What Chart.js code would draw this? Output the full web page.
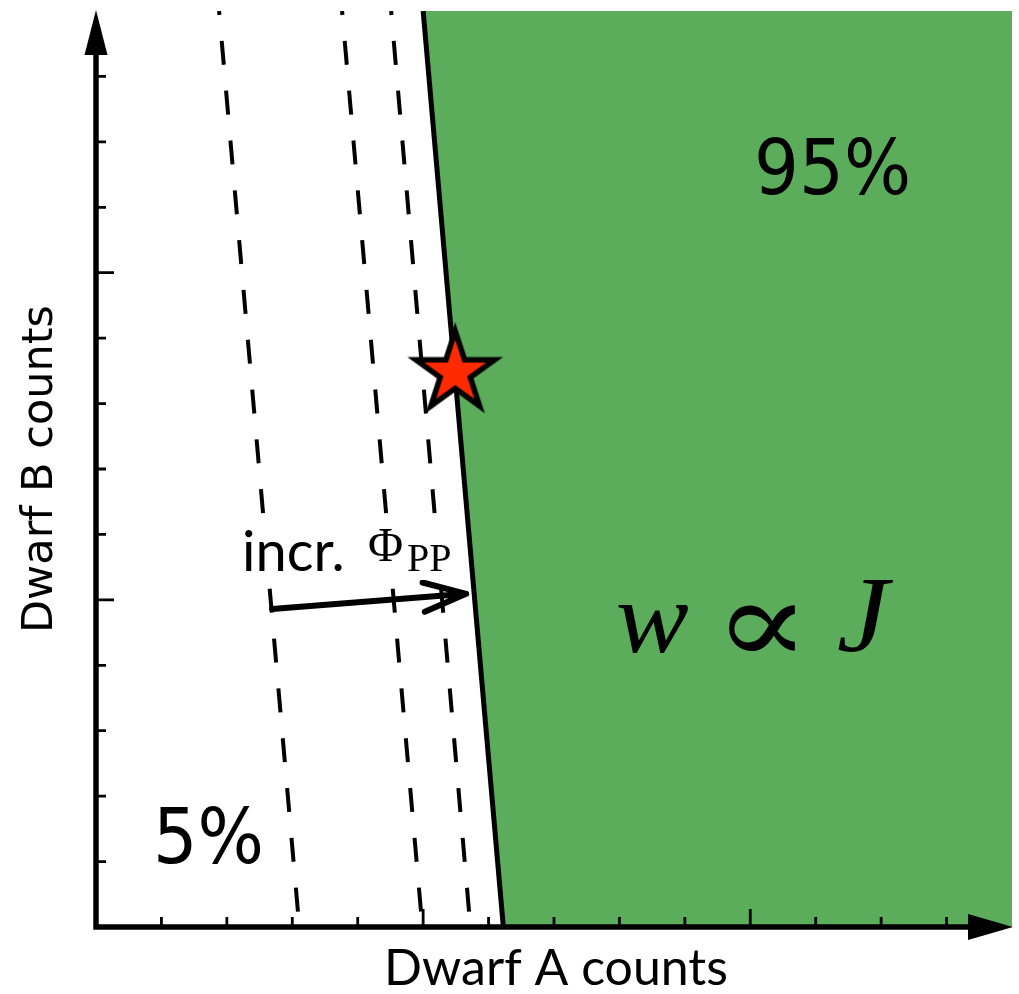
<!DOCTYPE html>
<html>
<head>
<meta charset="utf-8">
<script src="https://cdn.jsdelivr.net/npm/chart.js@4.4.1/dist/chart.umd.min.js"></script>
<style>
  html, body { margin: 0; padding: 0; background: #ffffff; }
  canvas { display: block; }
</style>
</head>
<body>
<canvas id="chart" width="1019" height="994"></canvas>
<script>
// Both axes run over the same count range (arbitrary units)
const axisMax = 14;
const tickValues = [1, 2, 3, 4, 5, 6, 7, 8, 9, 10, 11, 12, 13];
const majorTickValues = [5, 10];

// Selection boundary: x where it meets the top edge and the x axis
const boundaryX = [5.0, 6.226];
const boundaryY = [14, 0];

// Dashed boundaries for increasing Phi_PP (top x, bottom x)
const dashedTopX = [1.881, 3.761, 4.511];
const dashedBottomX = [3.107, 4.988, 5.722];

// Observed dwarf pair
const starX = [5.49];
const starY = [8.52];

// Arrow showing the shift with increasing Phi_PP
const arrowStart = [2.691, 4.862];
const arrowEnd = [5.657, 5.092];

const GREEN = 'rgb(91,173,92)';

// Five-pointed marker used for the observed point
function makeStar() {
  const size = 130, c = size / 2, R = 41.5, r = R * 0.382;
  const cv = document.createElement('canvas');
  cv.width = size; cv.height = size;
  const g = cv.getContext('2d');
  g.beginPath();
  for (let i = 0; i < 10; i++) {
    const rad = i % 2 === 0 ? R : r;
    const a = -Math.PI / 2 + i * Math.PI / 5;
    const px = c + rad * Math.cos(a), py = c + 3 + rad * Math.sin(a);
    if (i === 0) g.moveTo(px, py); else g.lineTo(px, py);
  }
  g.closePath();
  g.fillStyle = '#ff2a00';
  g.fill();
  g.lineWidth = 5.5;
  g.lineJoin = 'miter';
  g.miterLimit = 10;
  g.strokeStyle = '#000';
  g.stroke();
  return cv;
}

const datasets = [];

datasets.push({
  label: 'observed',
  data: starX.map((x, i) => ({ x, y: starY[i] })),
  showLine: false,
  pointStyle: makeStar(),
  pointRadius: 40,
  order: 0,
  clip: false
});

datasets.push({
  label: 'boundary',
  data: boundaryX.map((x, i) => ({ x, y: boundaryY[i] })),
  showLine: true,
  borderColor: '#000',
  borderWidth: 5,
  pointRadius: 0,
  fill: false,
  order: 1
});

dashedTopX.forEach((xt, i) => {
  datasets.push({
    label: 'dashed ' + i,
    data: [{ x: xt, y: axisMax }, { x: dashedBottomX[i], y: 0 }],
    showLine: true,
    borderColor: '#000',
    borderWidth: 4,
    borderDash: [24, 26],
    borderDashOffset: 20,
    pointRadius: 0,
    fill: false,
    order: 2
  });
});

// Region right of the boundary, filled up to the top of the plot
datasets.push({
  label: 'accepted',
  data: [
    { x: boundaryX[0], y: boundaryY[0] },
    { x: boundaryX[1], y: boundaryY[1] },
    { x: axisMax, y: 0 }
  ],
  showLine: true,
  borderWidth: 0,
  borderColor: GREEN,
  backgroundColor: GREEN,
  pointRadius: 0,
  fill: 'end',
  order: 3
});

function arrowHead(ctx, tipX, tipY, dirX, dirY, len, halfW) {
  const n = Math.hypot(dirX, dirY);
  const ux = dirX / n, uy = dirY / n;
  const bx = tipX - ux * len, by = tipY - uy * len;
  ctx.beginPath();
  ctx.moveTo(tipX, tipY);
  ctx.lineTo(bx - uy * halfW, by + ux * halfW);
  ctx.lineTo(bx + uy * halfW, by - ux * halfW);
  ctx.closePath();
  ctx.fill();
}

// Draws text so that its ink fills the given box
function fitText(ctx, text, left, top, width, height) {
  const m = ctx.measureText(text);
  const w = m.actualBoundingBoxLeft + m.actualBoundingBoxRight;
  const h = m.actualBoundingBoxAscent + m.actualBoundingBoxDescent;
  ctx.save();
  ctx.translate(left, top);
  ctx.scale(width / w, height / h);
  ctx.fillText(text, m.actualBoundingBoxLeft, m.actualBoundingBoxAscent);
  ctx.restore();
}

const decorations = {
  id: 'decorations',
  afterDatasetsDraw(chart) {
    const ctx = chart.ctx;
    const xs = chart.scales.x, ys = chart.scales.y;
    const x0 = xs.getPixelForValue(0), y0 = ys.getPixelForValue(0);
    const xEnd = xs.getPixelForValue(axisMax), yEnd = ys.getPixelForValue(axisMax);
    ctx.save();
    ctx.fillStyle = '#000';
    ctx.strokeStyle = '#000';

    // Axis lines
    ctx.lineWidth = 5.5;
    ctx.lineCap = 'butt';
    ctx.beginPath();
    ctx.moveTo(x0, y0 + 2.75);
    ctx.lineTo(x0, yEnd + 40);
    ctx.moveTo(x0 - 2.75, y0);
    ctx.lineTo(xEnd - 40, y0);
    ctx.stroke();
    arrowHead(ctx, x0, yEnd - 1, 0, -1, 45, 11.5);
    arrowHead(ctx, xEnd + 1, y0, 1, 0, 45, 13);

    // Inward ticks
    ctx.lineWidth = 2.8;
    ctx.beginPath();
    tickValues.forEach(v => {
      const len = majorTickValues.includes(v) ? 18 : 10;
      const px = xs.getPixelForValue(v);
      ctx.moveTo(px, y0);
      ctx.lineTo(px, y0 - len);
      const py = ys.getPixelForValue(v);
      ctx.moveTo(x0, py);
      ctx.lineTo(x0 + len, py);
    });
    ctx.stroke();

    // Phi_PP arrow
    const ax1 = xs.getPixelForValue(arrowStart[0]), ay1 = ys.getPixelForValue(arrowStart[1]);
    const ax2 = xs.getPixelForValue(arrowEnd[0]), ay2 = ys.getPixelForValue(arrowEnd[1]);
    ctx.lineWidth = 6;
    ctx.lineCap = 'round';
    ctx.lineJoin = 'round';
    ctx.beginPath();
    ctx.moveTo(ax1, ay1);
    ctx.lineTo(ax2, ay2);
    const ang = Math.atan2(ay1 - ay2, ax1 - ax2);
    const armLen = 45, spread = 19 * Math.PI / 180;
    ctx.moveTo(ax2 + armLen * Math.cos(ang - spread), ay2 + armLen * Math.sin(ang - spread));
    ctx.lineTo(ax2, ay2);
    ctx.lineTo(ax2 + armLen * Math.cos(ang + spread), ay2 + armLen * Math.sin(ang + spread));
    ctx.stroke();

    // Arrow label on a white box
    ctx.fillStyle = '#ffffff';
    ctx.fillRect(238, 522, 214, 58);
    ctx.fillStyle = '#000';
    ctx.textBaseline = 'alphabetic';
    ctx.textAlign = 'left';
    ctx.font = '56px Lato';
    ctx.fillText('incr.', 242, 571);
    ctx.font = '48px "Liberation Serif", "DejaVu Serif", serif';
    ctx.fillText('\u03A6', 368, 561);
    ctx.font = '40px "Liberation Serif", "DejaVu Serif", serif';
    ctx.fillText('PP', 407, 571);

    // Percent labels (slightly narrowed glyphs)
    ctx.font = '76px "DejaVu Sans"';
    ctx.save();
    ctx.translate(754, 194);
    ctx.scale(0.93, 1);
    ctx.fillText('95%', 0, 0);
    ctx.restore();
    ctx.save();
    ctx.translate(153, 863);
    ctx.scale(0.92, 1);
    ctx.fillText('5%', 0, 0);
    ctx.restore();

    // Weight relation
    ctx.font = 'italic 100px "Liberation Serif", "DejaVu Serif", serif';
    fitText(ctx, 'w', 618, 605, 70, 48);
    ctx.font = '100px "DejaVu Serif", serif';
    fitText(ctx, '\u221D', 728, 604, 67, 48);
    ctx.font = 'italic 100px "Liberation Serif", "DejaVu Serif", serif';
    fitText(ctx, 'J', 838, 580, 56, 73);

    // Axis titles
    ctx.font = '50px Lato';
    ctx.textAlign = 'center';
    ctx.fillText('Dwarf A counts', 556, 985);
    ctx.save();
    ctx.translate(52, 469);
    ctx.rotate(-Math.PI / 2);
    ctx.font = '43px "DejaVu Sans"';
    ctx.fillText('Dwarf B counts', 0, 0);
    ctx.restore();

    ctx.restore();
  }
};

new Chart(document.getElementById('chart'), {
  type: 'scatter',
  data: { datasets },
  options: {
    responsive: false,
    animation: false,
    layout: { autoPadding: false, padding: { left: 96, top: 11, right: 7, bottom: 67 } },
    scales: {
      x: { type: 'linear', min: 0, max: axisMax, display: false },
      y: { type: 'linear', min: 0, max: axisMax, display: false }
    },
    plugins: {
      legend: { display: false },
      tooltip: { enabled: false }
    },
    elements: { line: { tension: 0 } }
  },
  plugins: [decorations]
});
</script>
</body>
</html>
